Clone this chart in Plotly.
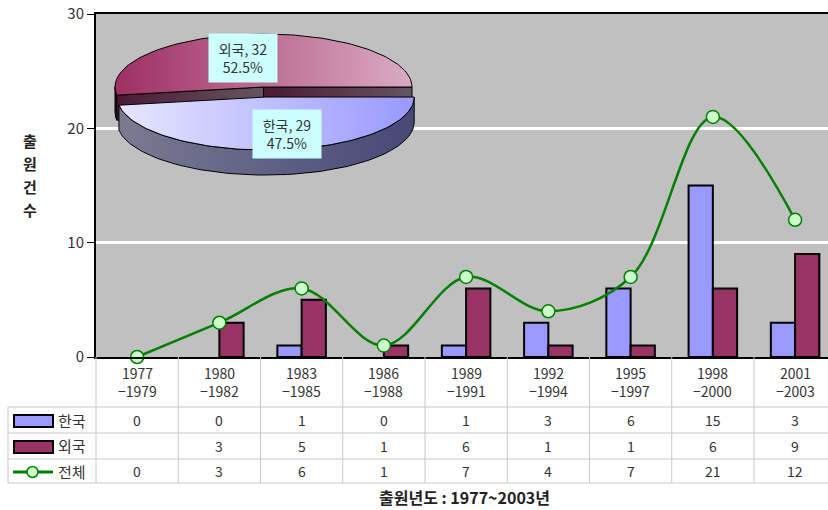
import math
import plotly.graph_objects as go

# ---------------- data ----------------
periods = ["1977-1979", "1980-1982", "1983-1985", "1986-1988", "1989-1991",
           "1992-1994", "1995-1997", "1998-2000", "2001-2003"]
korea = [0, 0, 1, 0, 1, 3, 6, 15, 3]
foreign = [None, 3, 5, 1, 6, 1, 1, 6, 9]
total = [0, 3, 6, 1, 7, 4, 7, 21, 12]
series_names = ["한국", "외국", "전체"]
pie_labels = ["한국", "외국"]
pie_values = [29, 32]
y_ticks = [0, 10, 20, 30]
y_title = "출원건수"
x_title = "출원년도 : 1977~2003년"

# ---------------- layout constants ----------------
W, H = 828, 510
L, T, B = 96, 14, 153
XR = [-0.5, 8.40]
FONT = "Noto Sans CJK KR, Noto Sans, Liberation Sans"
TXT = "#333333"


def ypaper(p):
    return (H - B - p) / (H - B - T)


def xpaper(p):
    return (p - L) / (W - L)


def xcat(v):
    return (v - XR[0]) / (XR[1] - XR[0])


def edge_widths(vals):
    return [2 if (v is not None and v != 0) else 0 for v in vals]


fig = go.Figure()

# bars
fig.add_trace(go.Bar(x=periods, y=korea, name=series_names[0],
                     marker=dict(color="#9999FF",
                                 line=dict(color="black", width=edge_widths(korea))),
                     hoverinfo="skip"))
fig.add_trace(go.Bar(x=periods, y=foreign, name=series_names[1],
                     marker=dict(color="#993366",
                                 line=dict(color="black", width=edge_widths(foreign))),
                     hoverinfo="skip"))
# line
fig.add_trace(go.Scatter(x=periods, y=total, name=series_names[2], mode="lines+markers",
                         line=dict(color="#008000", width=2.5, shape="spline", smoothing=1.0),
                         marker=dict(size=13, color="#CCFFCC", line=dict(color="#008000", width=1.5)),
                         cliponaxis=False, hoverinfo="skip"))

# ---------------- 3D pie (pixel-unit auxiliary axes) ----------------
CX, CY, RX, RY, DEPTH = 263.5, 87.0, 148.5, 53.0, 25.0
explode = {"한국": 0.19, "외국": 0.0}
top_cols = {"한국": ["#E6E6FF", "#9999FF"], "외국": ["#9E2F63", "#DBABC3"]}
side_cols = {"한국": ["#7A7A92", "#484878"], "외국": ["#2A0818", "#2A0818"]}
cut_cols = {"한국": ["#4A1A34", "#645058"], "외국": ["#4A1A34", "#665560"]}
label_pos = {"한국": (287, 134), "외국": (243, 58)}

tot = sum(pie_values)
slices = []
a = 90.0
for lab, v in zip(pie_labels, pie_values):
    sweep = 360.0 * v / tot
    slices.append((lab, v, a, a + sweep))
    a += sweep


def pt(theta, cx, cy, dz=0.0):
    t = math.radians(theta)
    return cx + RX * math.sin(t), cy - RY * math.cos(t) + dz


def arc(a0, a1, cx, cy, dz=0.0):
    n = max(2, int(abs(a1 - a0) / 2) + 2)
    return [pt(a0 + (a1 - a0) * i / (n - 1), cx, cy, dz) for i in range(n)]


def poly(points, cols):
    xs = [p[0] for p in points] + [points[0][0]]
    ys = [p[1] for p in points] + [points[0][1]]
    fig.add_trace(go.Scatter(x=xs, y=ys, xaxis="x2", yaxis="y2", mode="lines",
                             fill="toself", line=dict(color="black", width=1),
                             fillgradient=dict(type="horizontal",
                                               colorscale=[[0, cols[0]], [1, cols[1]]]),
                             hoverinfo="skip", showlegend=False))


order = sorted(slices, key=lambda s: -math.cos(math.radians((s[2] + s[3]) / 2)))
for lab, v, a0, a1 in order:
    mid = (a0 + a1) / 2
    e = explode[lab]
    cx = CX + e * RX * math.sin(math.radians(mid))
    cy = CY - e * RY * math.cos(math.radians(mid))
    # visible outer side
    for k in (-360, 0, 360):
        lo, hi = max(a0, 90 + k), min(a1, 270 + k)
        if hi > lo + 0.5:
            top = arc(lo, hi, cx, cy)
            bot = arc(lo, hi, cx, cy, DEPTH)[::-1]
            poly(top + bot, side_cols[lab])
    # visible radial cut faces
    for ang, nrm in ((a0, a0 - 90), (a1, a1 + 90)):
        if -math.cos(math.radians(nrm)) > 0:
            p = pt(ang, cx, cy)
            poly([(cx, cy), p, (p[0], p[1] + DEPTH), (cx, cy + DEPTH)], cut_cols[lab])
    # top face
    poly([(cx, cy)] + arc(a0, a1, cx, cy), top_cols[lab])

annotations = []
for lab, v, a0, a1 in slices:
    lx, ly = label_pos[lab]
    annotations.append(dict(x=lx, y=ly, xref="x2", yref="y2", showarrow=False,
                            xanchor="center", yanchor="middle",
                            text=f"{lab}, {v}<br>{100 * v / tot:.1f}%",
                            font=dict(family=FONT, size=14, color=TXT),
                            bgcolor="#CCFFFF", width=66, height=46, align="center"))


def note(x, xref, y, text, size=14, color=TXT, xanchor="center"):
    annotations.append(dict(x=x, xref=xref, y=y, yref="paper", showarrow=False,
                            xanchor=xanchor, yanchor="middle", text=text,
                            font=dict(family=FONT, size=size, color=color)))


# ---------------- data table ----------------
for i, p in enumerate(periods):
    note(i, "x", ypaper(382), p.replace("-", "<br>−"))
row_y = [420, 446, 471]
for vals, ry in zip([korea, foreign, total], row_y):
    for i, v in enumerate(vals):
        note(i, "x", ypaper(ry), "" if v is None else str(v))
for name, ry in zip(series_names, row_y):
    note(xpaper(56), "paper", ypaper(ry), name, size=15, xanchor="left")

shapes = []
GRID = "#C8C8C8"
for hy in [407, 433, 459, 483]:
    shapes.append(dict(type="line", xref="paper", yref="paper", x0=xpaper(8), x1=1,
                       y0=ypaper(hy), y1=ypaper(hy), line=dict(color=GRID, width=1)))
for i in range(len(periods) + 1):
    xb = xcat(i - 0.5)
    if xb <= 1:
        shapes.append(dict(type="line", xref="paper", yref="paper", x0=xb, x1=xb,
                           y0=ypaper(357), y1=ypaper(483), line=dict(color=GRID, width=1)))
shapes.append(dict(type="line", xref="paper", yref="paper", x0=xpaper(8), x1=xpaper(8),
                   y0=ypaper(407), y1=ypaper(483), line=dict(color=GRID, width=1)))
# legend keys
shapes.append(dict(type="rect", xref="paper", yref="paper", x0=xpaper(14), x1=xpaper(53),
                   y0=ypaper(427), y1=ypaper(415), fillcolor="#9999FF",
                   line=dict(color="black", width=2)))
shapes.append(dict(type="rect", xref="paper", yref="paper", x0=xpaper(14), x1=xpaper(53),
                   y0=ypaper(453), y1=ypaper(441), fillcolor="#993366",
                   line=dict(color="black", width=2)))
shapes.append(dict(type="line", xref="paper", yref="paper", x0=xpaper(13), x1=xpaper(53),
                   y0=ypaper(472), y1=ypaper(472), line=dict(color="#008000", width=3)))
shapes.append(dict(type="circle", xref="paper", yref="paper", x0=xpaper(27), x1=xpaper(38),
                   y0=ypaper(477.5), y1=ypaper(466.5), fillcolor="#CCFFCC",
                   line=dict(color="#008000", width=1.5)))

# titles (vertical stacked y title, one glyph per row as in the reference)
for k, ch in enumerate(y_title):
    note(xpaper(30), "paper", ypaper(140 + 23 * k), "<b>" + ch + "</b>", size=15,
         color="#222222")
note(xpaper(465), "paper", ypaper(497), "<b>" + x_title + "</b>", size=16, color="#222222")

fig.update_layout(
    width=W, height=H,
    margin=dict(l=L, r=0, t=T, b=B, pad=0),
    paper_bgcolor="white", plot_bgcolor="#C0C0C0",
    font=dict(family=FONT, color=TXT),
    barmode="group", bargap=0.41, bargroupgap=0,
    showlegend=False,
    xaxis=dict(type="category", range=XR, showticklabels=False, ticks="",
               showgrid=False, showline=True, linecolor="black", linewidth=2,
               mirror=True, fixedrange=True, zeroline=False),
    yaxis=dict(range=[0, 30], tickvals=y_ticks, ticks="outside", ticklen=7,
               tickcolor="black", tickwidth=1, showline=True, linecolor="black",
               linewidth=2, showgrid=True, gridcolor="white", gridwidth=3,
               zeroline=False, tickfont=dict(family=FONT, size=15, color=TXT),
               fixedrange=True),
    xaxis2=dict(overlaying="x", anchor="y2", range=[L, W], visible=False,
                fixedrange=True),
    yaxis2=dict(overlaying="y", anchor="x2", range=[H - B, T], visible=False,
                fixedrange=True),
    annotations=annotations, shapes=shapes,
)

fig.write_html("out.html")
